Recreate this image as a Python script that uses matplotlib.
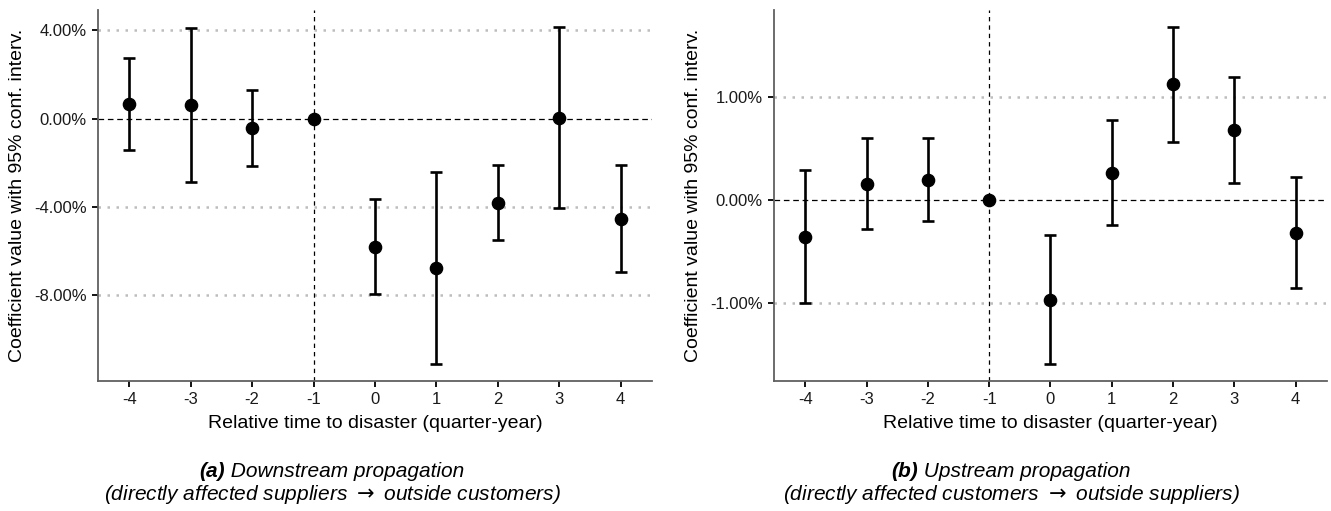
"""Event-study coefficients: downstream vs upstream propagation."""
import matplotlib
matplotlib.use("Agg")
import matplotlib.pyplot as plt
from matplotlib.ticker import FuncFormatter

plt.rcParams["font.family"] = ["Liberation Sans", "DejaVu Sans"]
plt.rcParams["axes.unicode_minus"] = False
plt.rcParams["mathtext.fontset"] = "dejavusans"

rel_time = [-4, -3, -2, -1, 0, 1, 2, 3, 4]

# (a) downstream, in percent
down_coef = [0.65, 0.60, -0.44, 0.0, -5.82, -6.77, -3.85, 0.03, -4.55]
down_lo = [-1.42, -2.88, -2.16, 0.0, -7.98, -11.13, -5.52, -4.04, -6.95]
down_hi = [2.73, 4.09, 1.30, 0.0, -3.66, -2.41, -2.13, 4.16, -2.13]
down_ticks = [4, 0, -4, -8]

# (b) upstream, in percent
up_coef = [-0.358, 0.155, 0.19, 0.0, -0.969, 0.265, 1.13, 0.678, -0.316]
up_lo = [-1.00, -0.277, -0.206, 0.0, -1.592, -0.238, 0.566, 0.162, -0.853]
up_hi = [0.288, 0.60, 0.605, 0.0, -0.339, 0.775, 1.683, 1.198, 0.22]
up_ticks = [1, 0, -1]

panels = [
    ("(a)", " Downstream propagation",
     "(directly affected suppliers $\\rightarrow$ outside customers)",
     down_coef, down_lo, down_hi, down_ticks),
    ("(b)", " Upstream propagation",
     "(directly affected customers $\\rightarrow$ outside suppliers)",
     up_coef, up_lo, up_hi, up_ticks),
]

fig = plt.figure(figsize=(13.31, 5.11), dpi=100)
ax_pos = [[0.0736, 0.255, 0.4162, 0.7254], [0.5815, 0.255, 0.4155, 0.7254]]
cap_x = [332 / 1331, 1011 / 1331]

captions = []
for pos, (tag, title, sub, coef, lo, hi, yt) in zip(ax_pos, panels):
    ax = fig.add_axes(pos)
    yerr = [[c - l for c, l in zip(coef, lo)], [h - c for c, h in zip(coef, hi)]]
    for y in yt:
        if y != 0:
            ax.axhline(y, color="#bdbdbd", lw=1.8, ls=(0, (1, 2.6)), zorder=0)
    ax.axhline(0, color="black", lw=0.9, ls=(0, (4.5, 3)), zorder=1)
    ax.axvline(-1, color="black", lw=0.9, ls=(0, (3.5, 3.2)), zorder=1)
    ax.errorbar(rel_time, coef, yerr=yerr, fmt="o", color="black", ms=8.8,
                elinewidth=1.9, capsize=4, capthick=1.9, zorder=3)
    ax.set_xlim(-4.51, 4.51)
    ax.set_xticks(rel_time)
    ax.set_yticks(yt)
    ax.yaxis.set_major_formatter(FuncFormatter(lambda v, p: f"{v:.2f}%"))
    ax.tick_params(labelsize=12, length=4, width=1.3, color="black",
                   labelcolor="#1a1a1a", pad=4)
    for side in ("top", "right"):
        ax.spines[side].set_visible(False)
    for side in ("left", "bottom"):
        ax.spines[side].set_color("#606060")
        ax.spines[side].set_linewidth(1.3)
    ax.set_xlabel("Relative time to disaster (quarter-year)", fontsize=14, labelpad=6)
    ax.set_ylabel("Coefficient value with 95% conf. interv.", fontsize=14, labelpad=6)
    captions.append((tag, title, sub))

fig.canvas.draw()
r = fig.canvas.get_renderer()
for cx, (tag, title, sub) in zip(cap_x, captions):
    y1 = 1 - 471 / 511
    y2 = 1 - 494 / 511
    t1 = fig.text(0, y1, tag, fontsize=15, style="italic", weight="bold", va="center")
    t2 = fig.text(0, y1, title, fontsize=15, style="italic", va="center")
    w1 = t1.get_window_extent(r).width / fig.bbox.width
    w2 = t2.get_window_extent(r).width / fig.bbox.width
    x0 = cx - (w1 + w2) / 2
    t1.set_x(x0)
    t2.set_x(x0 + w1)
    fig.text(cx, y2, sub, fontsize=15, style="italic", ha="center", va="center")

fig.savefig("out.png", dpi=100)
